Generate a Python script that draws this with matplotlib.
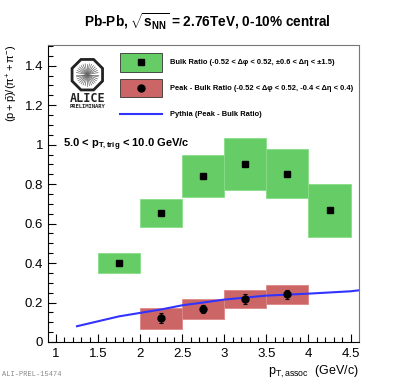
import numpy as np
import matplotlib
matplotlib.use('Agg')
import matplotlib.pyplot as plt
from matplotlib.patches import Rectangle, RegularPolygon

plt.rcParams['font.family'] = ['Liberation Sans', 'DejaVu Sans']
plt.rcParams['mathtext.fontset'] = 'custom'
plt.rcParams['mathtext.rm'] = 'Liberation Sans'
plt.rcParams['mathtext.it'] = 'Liberation Sans'
plt.rcParams['mathtext.bf'] = 'Liberation Sans:bold'

# bulk ratio (squares), bins of 0.5 GeV/c
bulk_x = [1.75, 2.25, 2.75, 3.25, 3.75, 4.25]
bulk_y = [0.40, 0.655, 0.841, 0.903, 0.853, 0.667]
bulk_lo = [0.349, 0.582, 0.733, 0.772, 0.729, 0.532]
bulk_hi = [0.450, 0.726, 0.950, 1.035, 0.977, 0.802]

# peak - bulk ratio (circles)
peak_x = [2.25, 2.75, 3.25, 3.75]
peak_y = [0.122, 0.166, 0.220, 0.241]
peak_err = [0.024, 0.020, 0.025, 0.025]
peak_lo = [0.068, 0.115, 0.172, 0.192]
peak_hi = [0.174, 0.216, 0.265, 0.290]

# pythia curve
pyth_x = [1.25, 1.75, 2.25, 2.5, 2.75, 3.0, 3.5, 4.0, 4.5, 4.6]
pyth_y = [0.080, 0.130, 0.165, 0.186, 0.200, 0.215, 0.235, 0.245, 0.257, 0.262]

green = '#66cc66'
red = '#cc6666'
blue = '#3333ff'

fig = plt.figure(figsize=(3.99, 3.80), dpi=100)
ax = fig.add_axes([0.1203, 0.1, 0.7794, 0.7816])

for x, lo, hi in zip(bulk_x, bulk_lo, bulk_hi):
    ax.add_patch(Rectangle((x - 0.25, lo), 0.5, hi - lo, facecolor=green,
                           edgecolor='#88dd88', lw=0.6, zorder=1))
for x, lo, hi in zip(peak_x, peak_lo, peak_hi):
    ax.add_patch(Rectangle((x - 0.25, lo), 0.5, hi - lo, facecolor=red,
                           edgecolor='#dd8888', lw=0.6, zorder=1))

ax.plot(pyth_x, pyth_y, '-', color=blue, lw=1.5, zorder=2)
ax.plot(bulk_x, bulk_y, 's', color='k', ms=5, zorder=3)
ax.errorbar(peak_x, peak_y, yerr=peak_err, fmt='o', color='k', ms=5,
            elinewidth=0.8, capsize=1.2, capthick=0.8, zorder=3)

ax.set_xlim(0.905, 4.6)
ax.set_ylim(0, 1.505)
ax.set_xticks([1, 1.5, 2, 2.5, 3, 3.5, 4, 4.5])
ax.set_xticklabels(['1', '1.5', '2', '2.5', '3', '3.5', '4', '4.5'])
ax.set_xticks(np.arange(1, 4.55, 0.1), minor=True)
ax.set_yticks([0, 0.2, 0.4, 0.6, 0.8, 1.0, 1.2, 1.4])
ax.set_yticklabels(['0', '0.2', '0.4', '0.6', '0.8', '1', '1.2', '1.4'])
ax.set_yticks(np.arange(0, 1.51, 0.05), minor=True)
ax.tick_params(which='both', direction='in', labelsize=9.5, top=False, right=False)
ax.tick_params(which='major', length=6, width=0.8)
ax.tick_params(which='minor', length=3.5, width=0.8)
ax.tick_params(axis='x', pad=4)
for s in ['top', 'right']:
    ax.spines[s].set_color('#777777')

ax.set_ylabel(r'$\mathrm{(p+\bar{p})/(\pi^{+}+\pi^{-})}$', fontsize=8, loc='top', labelpad=3)
ax.set_xlabel(r'$\mathrm{p_{T,assoc}}$  (GeV/c)', fontsize=9, loc='right', labelpad=3)

fig.text(0.52, 0.942, r'Pb-Pb, $\mathbf{\sqrt{s_{NN}}}$ = 2.76TeV, 0-10% central',
         ha='center', va='center', fontsize=9.8, fontweight='bold')
fig.text(63 / 399, 1 - 145 / 380, r'5.0 < $\mathbf{p_{T,trig}}$ < 10.0 GeV/c',
         ha='left', va='center', fontsize=8, fontweight='bold')
fig.text(2 / 399, 1 - 375 / 380, 'ALI-PREL-15474', ha='left', va='center',
         fontsize=5, color='#888888', family='Liberation Mono')

# legend drawn in figure pixels
def fx(px):
    return px / 399
def fy(py):
    return 1 - py / 380

fig.patches.append(Rectangle((fx(120), fy(71.7)), fx(162) - fx(120), fy(52.7) - fy(71.7),
                             transform=fig.transFigure, facecolor=green, edgecolor='#333333', lw=0.6))
fig.patches.append(Rectangle((fx(120), fy(97.3)), fx(162) - fx(120), fy(79) - fy(97.3),
                             transform=fig.transFigure, facecolor=red, edgecolor='#333333', lw=0.6))
fig.lines.append(plt.Line2D([fx(120), fx(162)], [fy(114), fy(114)], transform=fig.transFigure,
                            color=blue, lw=1.5))
fig.lines.append(plt.Line2D([fx(141)], [fy(62)], transform=fig.transFigure, marker='s',
                            color='k', ms=5))
fig.lines.append(plt.Line2D([fx(141)], [fy(88)], transform=fig.transFigure, marker='o',
                            color='k', ms=5))
leg_txt = ['Bulk Ratio (-0.52 < \u0394\u03c6 < 0.52, \u00b10.6 < \u0394\u03b7 < \u00b11.5)',
           'Peak - Bulk Ratio (-0.52 < \u0394\u03c6 < 0.52, -0.4 < \u0394\u03b7 < 0.4)',
           'Pythia (Peak - Bulk Ratio)']
for t, py in zip(leg_txt, [62, 88, 114]):
    fig.text(fx(170), fy(py), t, ha='left', va='center', fontsize=5.4, fontweight='bold')

# ALICE logo (approximate)
oct_ = RegularPolygon((87.3, 380 - 74.7), 8, radius=16.5, orientation=np.pi / 8,
                      facecolor='none', edgecolor='#222222', lw=2.0, transform=None)
fig.patches.append(oct_)
for a in np.linspace(0, np.pi, 16, endpoint=False):
    dx, dy = 11 * np.cos(a), 11 * np.sin(a)
    fig.lines.append(plt.Line2D([87.3 - dx, 87.3 + dx], [380 - 74.7 - dy, 380 - 74.7 + dy],
                                transform=None, color='#666666', lw=0.5))
fig.text(fx(87.3), fy(98), 'ALICE', ha='center', va='center', fontsize=8.5,
         fontweight='bold', family='DejaVu Sans Mono', color='#222222')
fig.text(fx(87.3), fy(106.5), 'PRELIMINARY', ha='center', va='center', fontsize=4,
         fontweight='bold', family='DejaVu Sans Mono', color='#222222')

fig.savefig('out.png', dpi=100)
